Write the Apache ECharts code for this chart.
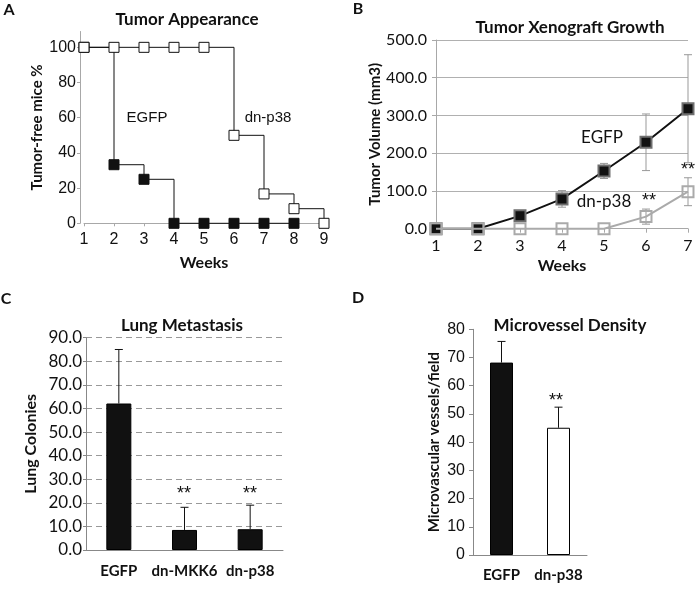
<!DOCTYPE html>
<html>
<head>
<meta charset="utf-8">
<title>Tumor panels</title>
<script src="https://cdn.jsdelivr.net/npm/echarts@6/dist/echarts.min.js"></script>
<style>
  html, body { margin: 0; padding: 0; background: #fff; }
  #chart { width: 700px; height: 589px; }
</style>
</head>
<body>
<div id="chart"></div>
<script>
// A - tumor appearance (tumor-free mice %)
var weeksA = [1, 2, 3, 4, 5, 6, 7, 8, 9];
var egfpFreeA = [100, 33.3, 25, 0, 0, 0, 0, 0];
var dnp38FreeA = [100, 100, 100, 100, 100, 50, 16.7, 8.3, 0];

// B - tumor xenograft growth (mm3)
var weeksB = [1, 2, 3, 4, 5, 6, 7];
var egfpVolB = [0, 0, 34, 79, 153, 229, 318];
var egfpErrB = [0, 0, 5, 22, 20, 75, 143];
var dnp38VolB = [0, 0, 0, 0, 0, 32, 98];
var dnp38ErrB = [0, 0, 0, 0, 0, 20, 37];

// C - lung metastasis
var groupsC = ['EGFP', 'dn-MKK6', 'dn-p38'];
var coloniesC = [62.1, 8.5, 8.8];
var coloniesErrC = [22.9, 9.6, 10.2];

// D - microvessel density
var groupsD = ['EGFP', 'dn-p38'];
var densityD = [68.2, 45.1];
var densityErrD = [7.5, 7.3];

var sans = 'Liberation Sans';
var cal = 'Lato';

function pairs (xs, ys) {
  return ys.map(function (v, i) { return [xs[i], v]; });
}
function triples (xs, ys, es) {
  return ys.map(function (v, i) { return [xs[i], v, es[i]]; });
}

// error bar drawn with a cap, both directions or only the upper one
function errorBar (capW, both) {
  return function (params, api) {
    var x = api.value(0);
    var v = api.value(1);
    var e = api.value(2);
    if (!e) return null;
    var hi = api.coord([x, v + e]);
    var lo = api.coord([x, both ? v - e : v]);
    var st = { stroke: api.visual('color'), lineWidth: 1 };
    var kids = [
      { type: 'line', shape: { x1: hi[0], y1: hi[1], x2: lo[0], y2: lo[1] }, style: st },
      { type: 'line', shape: { x1: hi[0] - capW, y1: hi[1], x2: hi[0] + capW, y2: hi[1] }, style: st }
    ];
    if (both) {
      kids.push({ type: 'line', shape: { x1: lo[0] - capW, y1: lo[1], x2: lo[0] + capW, y2: lo[1] }, style: st });
    }
    return { type: 'group', children: kids };
  };
}

function nameStyle (size) {
  return { fontFamily: cal, fontWeight: 'bold', fontSize: size || 16, color: '#111' };
}
function txt (x, y, s, font, size, bold) {
  return {
    type: 'text', x: x, y: y,
    style: {
      text: s, fontFamily: font, fontSize: size, fontWeight: bold ? 'bold' : 'normal',
      fill: '#111', align: 'center', verticalAlign: 'middle'
    }
  };
}

var myChart = echarts.init(document.getElementById('chart'));
var option = {
  animation: false,
  title: [
    { text: 'Tumor Appearance', left: 182, top: 6, textAlign: 'center', textStyle: nameStyle(17) },
    { text: 'Tumor Xenograft Growth', left: 565, top: 14, textAlign: 'center', textStyle: nameStyle(17) },
    { text: 'Lung Metastasis', left: 177, top: 312, textAlign: 'center', textStyle: nameStyle(17) },
    { text: 'Microvessel Density', left: 565, top: 312, textAlign: 'center', textStyle: nameStyle(17) }
  ],
  grid: [
    { left: 84, width: 240, top: 31.5, height: 191.8 },
    { left: 436, width: 252, top: 40, height: 188.7 },
    { left: 86, width: 197, top: 337.7, height: 212.3 },
    { left: 473, width: 114, top: 329.3, height: 225.7 }
  ],
  xAxis: [
    {
      gridIndex: 0, type: 'value', min: 1, max: 9, interval: 1,
      name: 'Weeks', nameLocation: 'middle', nameGap: 32, nameTextStyle: nameStyle(16),
      axisLine: { lineStyle: { color: '#a8a8a8' } },
      axisTick: { length: 3, lineStyle: { color: '#a8a8a8' } },
      axisLabel: { fontFamily: sans, fontSize: 16, color: '#111', margin: 8 },
      splitLine: { show: false }
    },
    {
      gridIndex: 1, type: 'value', min: 1, max: 7, interval: 1,
      name: 'Weeks', nameLocation: 'middle', nameGap: 29, nameTextStyle: nameStyle(16),
      axisLine: { lineStyle: { color: '#a8a8a8' } },
      axisTick: { length: 4, lineStyle: { color: '#a8a8a8' } },
      axisLabel: { fontFamily: cal, fontSize: 16, color: '#111', margin: 9 },
      splitLine: { show: false }
    },
    {
      gridIndex: 2, type: 'category', data: groupsC,
      axisLine: { lineStyle: { color: '#888' } },
      axisTick: { length: 5, lineStyle: { color: '#888' } },
      axisLabel: { interval: 0, fontFamily: cal, fontWeight: 'bold', fontSize: 15, color: '#111', margin: 14 }
    },
    {
      gridIndex: 3, type: 'category', data: groupsD,
      axisLine: { lineStyle: { color: '#888' } },
      axisTick: { length: 5, lineStyle: { color: '#888' } },
      axisLabel: { interval: 0, fontFamily: cal, fontWeight: 'bold', fontSize: 15, color: '#111', margin: 13 }
    }
  ],
  yAxis: [
    {
      gridIndex: 0, type: 'value', min: 0, max: 109, interval: 20, offset: 4,
      name: 'Tumor-free mice %', nameLocation: 'middle', nameGap: 35, nameTextStyle: nameStyle(15),
      axisLine: { show: true, lineStyle: { color: '#a8a8a8' } },
      axisTick: { show: true, length: 3, lineStyle: { color: '#a8a8a8' } },
      axisLabel: { fontFamily: sans, fontSize: 16, color: '#111', margin: 4, showMaxLabel: false },
      splitLine: { show: false }
    },
    {
      gridIndex: 1, type: 'value', min: 0, max: 500, interval: 100,
      name: 'Tumor Volume (mm3)', nameLocation: 'middle', nameGap: 51, nameTextStyle: nameStyle(15),
      axisLine: { show: true, lineStyle: { color: '#a8a8a8' } },
      axisTick: { show: true, length: 4, lineStyle: { color: '#a8a8a8' } },
      axisLabel: {
        fontFamily: cal, fontSize: 16, color: '#111', margin: 9,
        formatter: function (v) { return v.toFixed(1); }
      },
      splitLine: { lineStyle: { color: '#b0b0b0', width: 1 } }
    },
    {
      gridIndex: 2, type: 'value', min: 0, max: 90, interval: 10,
      name: 'Lung Colonies', nameLocation: 'middle', nameGap: 47, nameTextStyle: nameStyle(16),
      axisLine: { show: true, lineStyle: { color: '#888' } },
      axisTick: { show: true, length: 3, lineStyle: { color: '#888' } },
      axisLabel: {
        fontFamily: cal, fontSize: 17, color: '#111', margin: 4,
        formatter: function (v) { return v.toFixed(1); }
      },
      splitLine: { lineStyle: { color: '#999', type: [6, 4] } }
    },
    {
      gridIndex: 3, type: 'value', min: 0, max: 80, interval: 10,
      name: 'Microvascular vessels/field', nameLocation: 'middle', nameGap: 31, nameTextStyle: nameStyle(15),
      axisLine: { show: true, lineStyle: { color: '#888' } },
      axisTick: { show: true, length: 4, lineStyle: { color: '#888' } },
      axisLabel: { fontFamily: sans, fontSize: 16, color: '#111', margin: 8 },
      splitLine: { show: false }
    }
  ],
  series: [
    // A
    {
      name: 'EGFP', type: 'line', xAxisIndex: 0, yAxisIndex: 0, step: 'end',
      data: pairs(weeksA, egfpFreeA), clip: false, z: 2,
      symbol: 'rect', symbolSize: 10, showAllSymbol: true,
      lineStyle: { color: '#111', width: 1 },
      itemStyle: { color: '#111', borderColor: '#111', borderWidth: 1 }
    },
    {
      name: 'dn-p38', type: 'line', xAxisIndex: 0, yAxisIndex: 0, step: 'end',
      data: pairs(weeksA, dnp38FreeA), clip: false, z: 3,
      symbol: 'rect', symbolSize: 10, showAllSymbol: true,
      lineStyle: { color: '#111', width: 1 },
      itemStyle: { color: '#fff', borderColor: '#111', borderWidth: 1 }
    },
    // B
    {
      type: 'custom', xAxisIndex: 1, yAxisIndex: 1, z: 1, clip: false,
      renderItem: errorBar(4, true), itemStyle: { color: '#999' },
      data: triples(weeksB, egfpVolB, egfpErrB)
    },
    {
      type: 'custom', xAxisIndex: 1, yAxisIndex: 1, z: 1, clip: false,
      renderItem: errorBar(4, true), itemStyle: { color: '#999' },
      data: triples(weeksB, dnp38VolB, dnp38ErrB)
    },
    {
      name: 'EGFP', type: 'line', xAxisIndex: 1, yAxisIndex: 1,
      data: pairs(weeksB, egfpVolB), clip: false, z: 3,
      symbol: 'rect', symbolSize: 11, showAllSymbol: true,
      lineStyle: { color: '#111', width: 2 },
      itemStyle: { color: '#111', borderColor: '#6e6e6e', borderWidth: 2 }
    },
    {
      name: 'dn-p38', type: 'line', xAxisIndex: 1, yAxisIndex: 1,
      data: pairs(weeksB, dnp38VolB), clip: false, z: 4,
      symbol: 'rect', symbolSize: 11, showAllSymbol: true,
      lineStyle: { color: '#aaa', width: 2 },
      itemStyle: { color: 'rgba(255,255,255,0)', borderColor: '#aaa', borderWidth: 2 }
    },
    // C
    {
      type: 'bar', xAxisIndex: 2, yAxisIndex: 2, barWidth: 25,
      data: coloniesC,
      itemStyle: { color: '#111', borderColor: '#000', borderWidth: 1 }
    },
    {
      type: 'custom', xAxisIndex: 2, yAxisIndex: 2, z: 5,
      renderItem: errorBar(4, false), itemStyle: { color: '#111' },
      data: triples([0, 1, 2], coloniesC, coloniesErrC)
    },
    // D
    {
      type: 'bar', xAxisIndex: 3, yAxisIndex: 3, barWidth: 23,
      data: [
        { value: densityD[0], itemStyle: { color: '#111' } },
        { value: densityD[1], itemStyle: { color: '#fff' } }
      ],
      itemStyle: { borderColor: '#000', borderWidth: 1 }
    },
    {
      type: 'custom', xAxisIndex: 3, yAxisIndex: 3, z: 5,
      renderItem: errorBar(4, false), itemStyle: { color: '#111' },
      data: triples([0, 1], densityD, densityErrD)
    }
  ],
  graphic: [
    txt(9, 10, 'A', cal, 16, true),
    txt(358, 9, 'B', cal, 16, true),
    txt(6, 299, 'C', cal, 16, true),
    txt(358, 298, 'D', cal, 16, true),
    txt(147, 118, 'EGFP', sans, 15),
    txt(268, 118, 'dn-p38', sans, 15),
    txt(602, 138, 'EGFP', cal, 17),
    txt(604, 202, 'dn-p38', cal, 17),
    txt(649, 201, '**', sans, 18),
    txt(688, 170, '**', sans, 18),
    txt(184, 494, '**', sans, 18),
    txt(250, 494, '**', sans, 18),
    txt(556, 401, '**', sans, 18)
  ]
};
myChart.setOption(option);
</script>
</body>
</html>
